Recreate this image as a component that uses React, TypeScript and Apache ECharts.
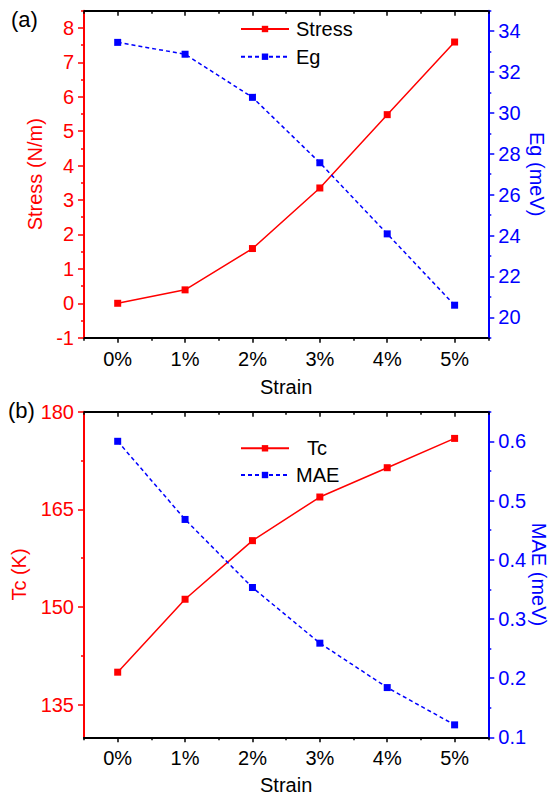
import React, { useEffect, useRef } from "react";
import * as echarts from "echarts";

const categories = ["0%", "1%", "2%", "3%", "4%", "5%"];
const stress = [0.0, 0.39, 1.59, 3.35, 5.48, 7.59];
const eg = [33.45, 32.87, 30.76, 27.56, 24.08, 20.59];
const tc = [140.0, 151.2, 160.2, 166.9, 171.4, 175.9];
const mae = [0.6, 0.468, 0.353, 0.259, 0.184, 0.121];

const xMinorTicks = [-0.5, 0.5, 1.5, 2.5, 3.5, 4.5, 5.5];
const stressTicks = [-1, 0, 1, 2, 3, 4, 5, 6, 7, 8];
const stressMinor = [-0.5, 0.5, 1.5, 2.5, 3.5, 4.5, 5.5, 6.5, 7.5, 8.5];
const egTicks = [20, 22, 24, 26, 28, 30, 32, 34];
const egMinor = [19, 21, 23, 25, 27, 29, 31, 33, 35];
const tcTicks = [135, 150, 165, 180];
const tcMinor = [142.5, 157.5, 172.5];
const maeTicks = [0.1, 0.2, 0.3, 0.4, 0.5, 0.6];
const maeMinor = [0.15, 0.25, 0.35, 0.45, 0.55, 0.65];

const FONT = "'Liberation Sans', Arial, sans-serif";
const RED = "#ff0000";
const BLUE = "#0000ff";
const BLACK = "#000000";

function xAxesFor(grid: number, name: string, nameGap: number) {
  return [
    {
      type: "category",
      gridIndex: grid,
      position: "bottom",
      data: categories,
      boundaryGap: true,
      name,
      nameLocation: "middle",
      nameGap,
      nameMoveOverlap: false,
      nameTextStyle: { color: BLACK, fontSize: 20, fontFamily: FONT },
      axisLine: { show: true, onZero: false, lineStyle: { color: BLACK, width: 2 } },
      axisTick: { show: true, alignWithLabel: true, length: 5, inside: false, lineStyle: { color: BLACK, width: 1.5 } },
      axisLabel: { show: true, color: BLACK, fontSize: 20, fontFamily: FONT, margin: 11 },
      splitLine: { show: false },
    },
    {
      type: "value",
      gridIndex: grid,
      position: "bottom",
      min: -0.5,
      max: 5.5,
      axisLine: { show: false, onZero: false },
      axisTick: { show: true, length: 3, inside: false, customValues: xMinorTicks, lineStyle: { color: BLACK, width: 1.5 } },
      axisLabel: { show: false },
      splitLine: { show: false },
    },
    {
      type: "category",
      gridIndex: grid,
      position: "top",
      data: categories,
      boundaryGap: true,
      axisLine: { show: true, onZero: false, lineStyle: { color: BLACK, width: 2 } },
      axisTick: { show: true, alignWithLabel: true, length: 5, inside: true, lineStyle: { color: BLACK, width: 1.5 } },
      axisLabel: { show: false },
      splitLine: { show: false },
    },
    {
      type: "value",
      gridIndex: grid,
      position: "top",
      min: -0.5,
      max: 5.5,
      axisLine: { show: false, onZero: false },
      axisTick: { show: true, length: 3, inside: true, customValues: xMinorTicks, lineStyle: { color: BLACK, width: 1.5 } },
      axisLabel: { show: false },
      splitLine: { show: false },
    },
  ];
}

function yPair(
  grid: number,
  position: "left" | "right",
  color: string,
  min: number,
  max: number,
  major: number[],
  minor: number[],
  name: string,
  nameGap: number
) {
  return [
    {
      type: "value",
      gridIndex: grid,
      position,
      min,
      max,
      name,
      nameLocation: "middle",
      nameGap,
      nameMoveOverlap: false,
      nameRotate: position === "left" ? 90 : -90,
      nameTextStyle: { color, fontSize: 20, fontFamily: FONT, lineHeight: 18 },
      axisLine: { show: true, onZero: false, lineStyle: { color, width: 2 } },
      axisTick: { show: true, length: 6, inside: false, customValues: major, lineStyle: { color, width: 1.5 } },
      axisLabel: { show: true, color, fontSize: 20, fontFamily: FONT, margin: 10, customValues: major },
      splitLine: { show: false },
    },
    {
      type: "value",
      gridIndex: grid,
      position,
      min,
      max,
      axisLine: { show: false, onZero: false },
      axisTick: { show: true, length: 3, inside: false, customValues: minor, lineStyle: { color, width: 1.5 } },
      axisLabel: { show: false },
      splitLine: { show: false },
    },
  ];
}

function legendFor(name: string, top: number, textPadLeft: number) {
  return {
    show: true,
    data: [name],
    left: 240,
    top,
    orient: "horizontal",
    itemWidth: 48,
    itemHeight: 8,
    itemGap: 0,
    padding: 0,
    textStyle: {
      color: BLACK,
      fontSize: 20,
      fontFamily: FONT,
      lineHeight: 20,
      padding: [0, 0, 0, textPadLeft],
    },
  };
}

export default function App() {
  const ref = useRef<HTMLDivElement>(null);
  useEffect(() => {
    if (!ref.current) return;
    const chart = echarts.init(ref.current, undefined, { renderer: "svg" });
    const option: any = {
      animation: false,
      backgroundColor: "#ffffff",
      grid: [
        { left: 84, right: 62.7, top: 10.7, height: 327, containLabel: false, outerBoundsMode: "none" },
        { left: 84, right: 62.7, top: 411.7, height: 325.6, containLabel: false, outerBoundsMode: "none" },
      ],
      xAxis: [...xAxesFor(0, "Strain", 39), ...xAxesFor(1, "Strain", 38)],
      yAxis: [
        ...yPair(0, "left", RED, -1, 8.5, stressTicks, stressMinor, "Stress (N/m)", 40),
        ...yPair(0, "right", BLUE, 19, 35, egTicks, egMinor, "Eg (meV)", 40),
        ...yPair(1, "left", RED, 130, 180, tcTicks, tcMinor, "Tc (K)", 56),
        ...yPair(1, "right", BLUE, 0.1, 0.65, maeTicks, maeMinor, "MAE (meV)", 42),
      ],
      legend: [
        legendFor("Stress", 19, 2),
        legendFor("Eg", 46.7, 2),
        legendFor("Tc", 438.3, 13),
        legendFor("MAE", 465, 2),
      ],
      graphic: [
        { type: "text", left: 11, top: 8, style: { text: "(a)", fontSize: 22, fontFamily: FONT, fill: BLACK } },
        { type: "text", left: 8, top: 399, style: { text: "(b)", fontSize: 22, fontFamily: FONT, fill: BLACK } },
      ],
      series: [
        {
          name: "Stress",
          type: "line",
          xAxisIndex: 0,
          yAxisIndex: 0,
          data: stress,
          symbol: "rect",
          symbolSize: 7,
          itemStyle: { color: RED },
          lineStyle: { color: RED, width: 1.5, type: "solid" },
        },
        {
          name: "Eg",
          type: "line",
          xAxisIndex: 0,
          yAxisIndex: 2,
          data: eg,
          symbol: "rect",
          symbolSize: 7,
          itemStyle: { color: BLUE },
          lineStyle: { color: BLUE, width: 1.5, type: [4, 3] },
        },
        {
          name: "Tc",
          type: "line",
          xAxisIndex: 4,
          yAxisIndex: 4,
          data: tc,
          symbol: "rect",
          symbolSize: 7,
          itemStyle: { color: RED },
          lineStyle: { color: RED, width: 1.5, type: "solid" },
        },
        {
          name: "MAE",
          type: "line",
          xAxisIndex: 4,
          yAxisIndex: 6,
          data: mae,
          symbol: "rect",
          symbolSize: 7,
          itemStyle: { color: BLUE },
          lineStyle: { color: BLUE, width: 1.5, type: [4, 3] },
        },
      ],
    };
    chart.setOption(option);
    return () => chart.dispose();
  }, []);
  return (
    <div
      ref={ref}
      style={{ position: "fixed", left: 0, top: 0, width: 551, height: 795, background: "#fff" }}
    />
  );
}
